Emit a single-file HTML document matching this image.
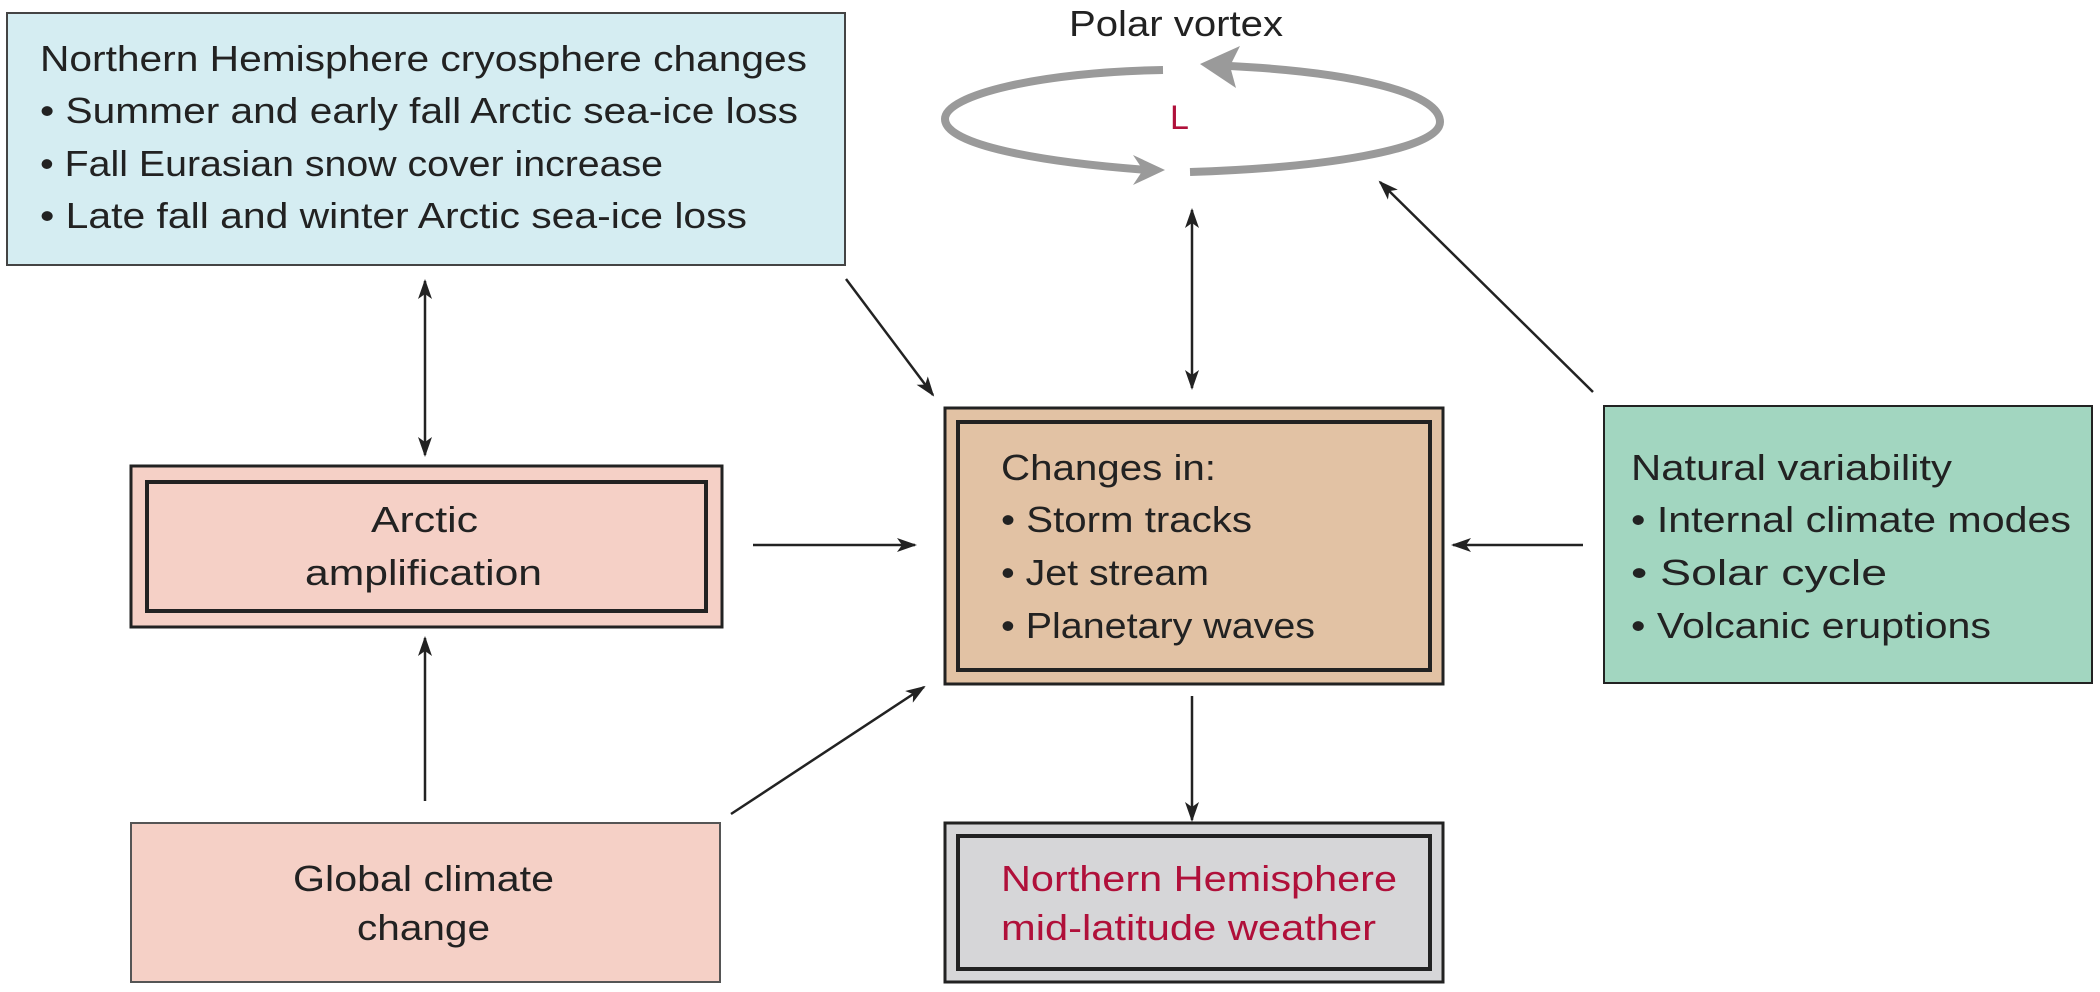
<!DOCTYPE html>
<html><head><meta charset="utf-8"><style>html,body{margin:0;padding:0;background:#fff}svg{display:block}</style></head>
<body>
<svg width="2100" height="992" viewBox="0 0 2100 992" xmlns="http://www.w3.org/2000/svg" font-family="Liberation Sans, sans-serif" font-size="36" fill="#222">
<defs>
<marker id="a" viewBox="0 0 20 14" refX="18" refY="7" markerWidth="20" markerHeight="14" markerUnits="userSpaceOnUse" orient="auto-start-reverse">
<path d="M0,0 L20,7 L0,14 L5,7 Z" fill="#222"/></marker>
</defs>
<!-- boxes -->
<rect x="7" y="13" width="838" height="252" fill="#d5edf2" stroke="#444" stroke-width="2"/>
<rect x="131" y="466" width="591" height="161" fill="#f5d0c6" stroke="#222" stroke-width="3"/>
<rect x="147" y="482" width="559" height="129" fill="none" stroke="#222" stroke-width="4"/>
<rect x="945" y="408" width="498" height="276" fill="#e2c2a4" stroke="#222" stroke-width="3"/>
<rect x="958" y="422" width="472" height="248" fill="none" stroke="#222" stroke-width="4"/>
<rect x="1604" y="406" width="488" height="277" fill="#a2d6c0" stroke="#222" stroke-width="2"/>
<rect x="131" y="823" width="589" height="159" fill="#f5d0c6" stroke="#555" stroke-width="2"/>
<rect x="945" y="823" width="498" height="159" fill="#d6d6d8" stroke="#222" stroke-width="3"/>
<rect x="958" y="836" width="472" height="133" fill="none" stroke="#222" stroke-width="4"/>
<!-- texts -->
<text x="40" y="71" textLength="767" lengthAdjust="spacingAndGlyphs">Northern Hemisphere cryosphere changes</text>
<text x="40" y="123" textLength="758" lengthAdjust="spacingAndGlyphs">• Summer and early fall Arctic sea-ice loss</text>
<text x="40" y="176" textLength="623" lengthAdjust="spacingAndGlyphs">• Fall Eurasian snow cover increase</text>
<text x="40" y="228" textLength="707" lengthAdjust="spacingAndGlyphs">• Late fall and winter Arctic sea-ice loss</text>
<text x="1069" y="36" textLength="214" lengthAdjust="spacingAndGlyphs">Polar vortex</text>
<text x="1170" y="129" fill="#b0103a" font-size="34">L</text>
<text x="371" y="532" textLength="107" lengthAdjust="spacingAndGlyphs">Arctic</text>
<text x="305" y="585" textLength="237" lengthAdjust="spacingAndGlyphs">amplification</text>
<text x="1001" y="480" textLength="215" lengthAdjust="spacingAndGlyphs">Changes in:</text>
<text x="1001" y="532" textLength="251" lengthAdjust="spacingAndGlyphs">• Storm tracks</text>
<text x="1001" y="585" textLength="208" lengthAdjust="spacingAndGlyphs">• Jet stream</text>
<text x="1001" y="638" textLength="314" lengthAdjust="spacingAndGlyphs">• Planetary waves</text>
<text x="1631" y="480" textLength="321" lengthAdjust="spacingAndGlyphs">Natural variability</text>
<text x="1631" y="532" textLength="440" lengthAdjust="spacingAndGlyphs">• Internal climate modes</text>
<text x="1631" y="585" textLength="256" lengthAdjust="spacingAndGlyphs">• Solar cycle</text>
<text x="1631" y="638" textLength="360" lengthAdjust="spacingAndGlyphs">• Volcanic eruptions</text>
<text x="293" y="891" textLength="261" lengthAdjust="spacingAndGlyphs">Global climate</text>
<text x="357" y="940" textLength="133" lengthAdjust="spacingAndGlyphs">change</text>
<text x="1001" y="891" fill="#b0103a" textLength="396" lengthAdjust="spacingAndGlyphs">Northern Hemisphere</text>
<text x="1001" y="940" fill="#b0103a" textLength="375" lengthAdjust="spacingAndGlyphs">mid-latitude weather</text>
<!-- polar vortex -->
<g fill="none" stroke="#9a9a9a" stroke-width="8">
<path d="M1163,70 C1040,72 945,95 945,119 C945,145 1040,162 1148,170"/>
<path d="M1190,172 C1320,168 1440,150 1440,122 C1440,92 1350,72 1230,66"/>
</g>
<path d="M1133,155 L1165,170 L1133,185 L1143,170 Z" fill="#9a9a9a"/>
<path d="M1240,46 L1200,64 L1236,88 L1230,66 Z" fill="#9a9a9a"/>
<!-- arrows -->
<g stroke="#222" stroke-width="2.5" fill="none">
<line x1="1192" y1="210" x2="1192" y2="388" marker-start="url(#a)" marker-end="url(#a)"/>
<line x1="1593" y1="392" x2="1380" y2="182" marker-end="url(#a)"/>
<line x1="425" y1="281" x2="425" y2="455" marker-start="url(#a)" marker-end="url(#a)"/>
<line x1="846" y1="279" x2="933" y2="395" marker-end="url(#a)"/>
<line x1="753" y1="545" x2="915" y2="545" marker-end="url(#a)"/>
<line x1="1583" y1="545" x2="1453" y2="545" marker-end="url(#a)"/>
<line x1="425" y1="801" x2="425" y2="638" marker-end="url(#a)"/>
<line x1="731" y1="814" x2="924" y2="687" marker-end="url(#a)"/>
<line x1="1192" y1="696" x2="1192" y2="820" marker-end="url(#a)"/>
</g>
</svg>
</body></html>
